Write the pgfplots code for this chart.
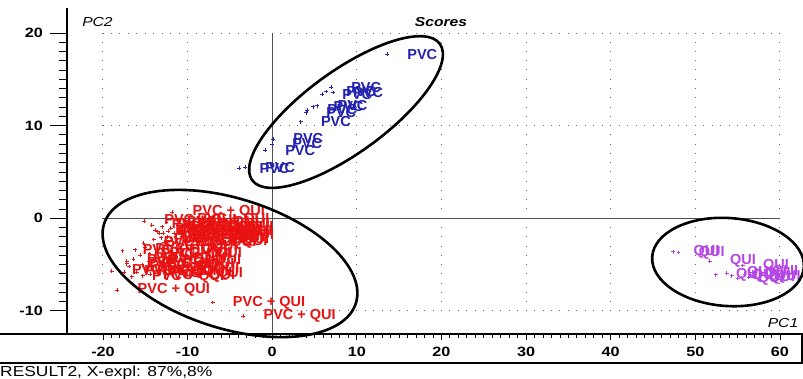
\documentclass[border=0pt]{standalone}
\usepackage{pgfplots}
\usepackage{pgfplotstable}
\pgfplotsset{compat=1.18}
\usepackage{fontspec}
\setmainfont{Liberation Sans}
\newfontfamily\uifont[FakeStretch=1.2]{Liberation Sans}

\definecolor{pvcblue}{RGB}{35,35,175}
\definecolor{mixred}{RGB}{232,18,18}
\definecolor{quiviolet}{RGB}{180,70,228}
\definecolor{zeroline}{RGB}{80,80,80}
\definecolor{griddot}{RGB}{105,105,105}

% PC1 / PC2 scores, one table per sample group
\pgfplotstableread{
x y
-3.89 5.40
-3.22 5.50
-0.86 7.37
-0.03 8.02
0.09 8.56
3.36 10.42
3.99 11.40
4.11 11.69
4.85 12.04
5.32 12.15
5.88 13.41
6.35 13.68
7.18 13.57
6.94 14.16
13.56 17.73
}\pvcscores

\pgfplotstableread{
x y
-18.30 -7.74
-18.97 -5.69
-17.20 -4.60
-17.20 -4.90
-17.70 -3.50
-15.20 -2.70
-15.15 -0.29
-14.25 -0.72
-13.85 -1.26
-13.60 -1.44
-13.30 -1.60
-12.90 -1.60
-7.04 -9.10
-3.42 -10.54
-11.80 0.67
-11.25 -0.20
-12.50 -0.45
-11.20 -0.75
-10.80 -1.00
-12.00 -1.05
-13.00 -0.90
-12.30 -1.40
-11.60 -1.60
-10.90 -1.45
-10.70 -1.95
-12.40 -2.00
-11.90 -2.20
-11.30 -2.30
-13.10 -2.10
-12.80 -2.60
-14.00 -2.30
-11.50 -2.55
-15.00 -3.10
-16.20 -3.40
-14.50 -3.80
-15.60 -4.00
-16.40 -4.40
-14.60 -4.60
-15.40 -5.00
-16.90 -5.20
-14.80 -5.50
-16.00 -5.80
-17.50 -5.80
-15.30 -6.20
-16.60 -6.30
-14.40 -6.00
}\mixscores

\pgfplotstableread{
x y
47.40 -3.60
48.00 -3.70
51.70 -4.60
52.40 -6.10
53.70 -5.90
55.60 -5.10
54.30 -6.20
55.00 -6.50
55.80 -6.00
56.30 -6.40
56.70 -5.80
57.00 -6.30
}\quiscores

\pgfplotsset{
  scoreframe/.style={
    at={(67pt,44pt)}, anchor=south west,
    scale only axis, width=736pt, height=326pt,
    xmin=-24.25, xmax=62.72, ymin=-12.49, ymax=22.70,
    axis line style={line width=1.3pt, black, -},
    tick align=outside,
    tick style={black, line width=0.9pt},
    ticklabel style={font=\uifont\bfseries\fontsize{13.5}{14}\selectfont, inner sep=0pt},
  },
  sample/.style={
    only marks, mark=+, mark size=1.9pt,
    mark options={line width=0.7pt},
    color=#1,
    every node near coord/.append style={
      anchor=west, xshift=20pt, yshift=0pt, inner sep=0pt,
      font=\bfseries\fontsize{14.5}{15}\selectfont, text=#1},
  },
}

\begin{document}
\begin{tikzpicture}
\useasboundingbox (0,0) rectangle (803pt,378pt);

% y-axis ticks (long ticks, labels on the left)
\begin{axis}[
  scoreframe,
  axis x line=none, axis y line*=left,
  xtick=\empty,
  ytick={-10,0,10,20}, yticklabels={-10,0,10,20},
  minor ytick={-9,-8,...,19},
  major tick length=17pt, minor tick length=8pt,
  yticklabel shift=7pt,
]
\end{axis}

\begin{axis}[
  scoreframe,
  axis x line*=bottom, axis y line*=left,
  ytick=\empty,
  xtick={-20,-10,...,60}, xticklabels={-20,-10,0,10,20,30,40,50,60},
  minor xtick={-19,-18,...,59},
  major tick length=6pt, minor tick length=4pt,
  xticklabel shift=7pt,
  clip=false,
]
% dotted grid, one dot per unit
\pgfplotsinvokeforeach{-20,-10,10,20,30,40,50,60}{
  \draw[griddot, line width=1pt, dash pattern=on 1pt off 8.267pt, dash phase=0.5pt]
    (axis cs:#1,-10) -- (axis cs:#1,20);
}
\pgfplotsinvokeforeach{-10,10,20}{
  \draw[griddot, line width=1pt, dash pattern=on 1pt off 7.4625pt, dash phase=0.5pt]
    (axis cs:-20,#1) -- (axis cs:60,#1);
}
% zero lines
\draw[zeroline, line width=1.2pt] (axis cs:-20,0) -- (axis cs:60,0);
\draw[zeroline, line width=1.2pt] (axis cs:0,-12.49) -- (axis cs:0,20);

\addplot[sample=mixred, nodes near coords={PVC + QUI}] table {\mixscores};
\addplot[sample=pvcblue, nodes near coords={PVC}] table {\pvcscores};
\addplot[sample=quiviolet, nodes near coords={QUI}] table {\quiscores};

% group centres
\coordinate (mixc) at (axis cs:-4.99,-4.88);
\coordinate (pvcc) at (axis cs:8.72,11.47);
\coordinate (quic) at (axis cs:53.86,-4.72);
\end{axis}

% window frame around the tick strip
\draw[black, line width=1.3pt] (0pt,44pt) -- (803pt,44pt);
\draw[black, line width=1.3pt] (0pt,15pt) -- (803pt,15pt);
\draw[black, line width=1.3pt] (802pt,15pt) -- (802pt,44pt);

% group outlines
\draw[black, line width=2.6pt, rotate around={-17.5:(mixc)}] (mixc) ellipse [x radius=132pt, y radius=65pt];
\draw[black, line width=2.6pt, rotate around={36:(pvcc)}] (pvcc) ellipse [x radius=116pt, y radius=41pt];
\draw[black, line width=2.6pt, rotate around={-4:(quic)}] (quic) ellipse [x radius=76pt, y radius=44pt];

% titles
\node[font=\uifont\itshape\fontsize{13}{14}\selectfont, inner sep=0pt] at (97.5pt,355.5pt) {PC2};
\node[font=\uifont\bfseries\itshape\fontsize{13}{14}\selectfont, inner sep=0pt] at (441pt,355.5pt) {Scores};
\node[font=\uifont\itshape\fontsize{13}{14}\selectfont, inner sep=0pt] at (783pt,54.5pt) {PC1};
\node[font=\uifont\fontsize{14.5}{15}\selectfont, inner sep=0pt, anchor=base west] at (0pt,2pt) {RESULT2, X-expl: 87\%,8\%};
\end{tikzpicture}
\end{document}
